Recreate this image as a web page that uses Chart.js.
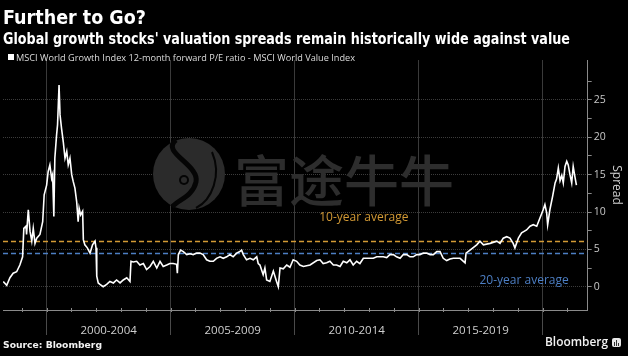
<!DOCTYPE html>
<html><head><meta charset="utf-8">
<script src="https://cdn.jsdelivr.net/npm/chart.js@4/dist/chart.umd.min.js"></script>
<style>
html,body{margin:0;padding:0;background:#000;}
#wrap{position:relative;width:628px;height:356px;overflow:hidden;background:#000;}
canvas{position:absolute;left:0;top:0;}
.t{position:absolute;white-space:nowrap;transform-origin:0 0;line-height:1;}
</style></head><body>
<div id="wrap">
<canvas id="c" width="628" height="356"></canvas>
<div class="t" id="title" style="left:3px;top:7.5px;font-family:'DejaVu Sans';font-weight:bold;font-size:19.5px;color:#fff">Further to Go?</div>
<div class="t" id="sub" style="left:3px;top:32.3px;font-family:'DejaVu Sans';font-weight:bold;font-size:15px;color:#fff">Global growth stocks' valuation spreads remain historically wide against value</div>
<div style="position:absolute;left:8px;top:54px;width:6px;height:6px;background:#fff"></div>
<div class="t" id="leg" style="left:15.5px;top:52.5px;font-family:'Open Sans';font-size:9px;color:#ddd">MSCI World Growth Index 12-month forward P/E ratio - MSCI World Value Index</div>
<div class="t" id="src" style="left:3px;top:339.7px;font-family:'DejaVu Sans';font-weight:bold;font-size:9.5px;color:#f2f2f2">Source: Bloomberg</div>
<div class="t" id="bbg" style="left:545px;top:336px;font-family:'Open Sans';font-weight:600;font-size:12px;color:#f2f2f2">Bloomberg</div>
<div style="position:absolute;left:612px;top:338px;width:9px;height:9px;border-radius:2px;background:#e8e8e8"><div style="position:absolute;left:2px;top:4px;width:1px;height:4px;background:#333"></div><div style="position:absolute;left:4px;top:2px;width:1px;height:6px;background:#333"></div><div style="position:absolute;left:6px;top:5px;width:1px;height:3px;background:#333"></div></div>
</div>
<script>
// ---- data (decimal years, spread in P/E points) ----
const dates = [
1998.25,1998.39,1998.52,1998.65,1998.79,1998.92,1999.03,1999.08,1999.17,1999.19,
1999.26,1999.33,1999.40,1999.46,1999.53,1999.60,1999.73,1999.84,1999.90,2000.00,
2000.06,2000.13,2000.20,2000.24,2000.29,2000.33,2000.40,2000.44,2000.50,2000.54,
2000.60,2000.67,2000.74,2000.81,2000.87,2000.94,2001.01,2001.07,2001.14,2001.21,
2001.27,2001.31,2001.37,2001.45,2001.48,2001.54,2001.64,2001.75,2001.85,2001.95,
2001.99,2002.02,2002.08,2002.15,2002.28,2002.42,2002.55,2002.69,2002.82,2002.96,
2003.09,2003.23,2003.36,2003.40,2003.49,2003.63,2003.76,2003.90,2004.03,2004.17,
2004.30,2004.44,2004.57,2004.70,2004.84,2004.97,2005.10,2005.24,2005.27,2005.31,
2005.40,2005.51,2005.65,2005.78,2005.91,2006.05,2006.18,2006.31,2006.45,2006.58,
2006.72,2006.85,2006.99,2007.12,2007.26,2007.39,2007.52,2007.66,2007.79,2007.86,
2007.93,2008.06,2008.20,2008.33,2008.47,2008.53,2008.60,2008.73,2008.80,2008.87,
2009.00,2009.14,2009.27,2009.34,2009.41,2009.54,2009.68,2009.81,2009.94,2010.08,
2010.21,2010.35,2010.62,2010.89,2011.02,2011.15,2011.29,2011.42,2011.56,2011.69,
2011.83,2011.96,2012.10,2012.23,2012.36,2012.50,2012.63,2012.77,2012.90,2013.04,
2013.17,2013.31,2013.44,2013.57,2013.71,2013.84,2013.98,2014.11,2014.25,2014.38,
2014.52,2014.65,2014.78,2014.92,2015.05,2015.19,2015.32,2015.46,2015.59,2015.73,
2015.86,2015.99,2016.13,2016.26,2016.40,2016.67,2016.87,2016.91,2017.07,2017.34,
2017.47,2017.61,2017.88,2018.15,2018.28,2018.41,2018.55,2018.68,2018.81,2018.88,
2019.02,2019.15,2019.35,2019.49,2019.62,2019.76,2019.89,2020.02,2020.09,2020.16,
2020.20,2020.29,2020.40,2020.50,2020.56,2020.63,2020.70,2020.77,2020.83,2020.90,
2020.97,2021.03,2021.10,2021.17,2021.23,2021.30,2021.36];
const spread = [
0.7,0.2,1.2,1.8,2.0,2.9,4.0,7.8,8.1,7.0,
10.3,7.4,6.1,7.8,5.8,6.5,7.0,8.7,12.3,13.6,
15.4,16.3,14.5,15.0,9.4,17.2,20.3,21.7,27.0,23.0,
21.2,19.4,17.2,18.1,16.3,17.2,15.0,14.1,13.2,11.4,
8.7,10.5,9.6,10.1,6.3,5.6,5.2,4.5,5.6,6.1,
5.2,1.4,0.5,0.3,0.0,0.3,0.7,0.5,0.9,0.5,
0.9,1.2,0.7,3.4,3.3,3.4,2.9,3.1,2.3,2.7,
3.4,2.5,3.4,2.7,2.9,3.1,3.1,3.0,1.8,4.3,
4.9,4.7,4.3,4.4,4.3,4.5,4.5,4.3,3.6,3.4,
3.4,3.8,4.0,3.8,4.0,4.3,4.0,4.5,4.7,4.9,
4.3,3.6,3.8,3.6,4.0,3.1,2.9,1.6,2.5,0.9,
0.7,2.1,0.7,0.0,2.5,2.4,2.9,2.6,3.6,3.4,
2.9,2.7,2.9,3.5,3.6,3.1,3.2,3.4,2.9,2.9,
2.7,3.4,3.2,3.6,2.9,3.4,3.1,3.8,3.8,3.8,
3.8,4.0,4.0,4.0,3.9,4.3,4.3,4.0,3.8,4.3,
4.3,4.0,4.0,4.3,4.3,4.5,4.5,4.3,4.3,4.7,
4.7,3.8,3.5,3.7,3.8,3.8,3.2,4.5,4.9,5.6,
6.1,5.6,5.8,6.1,5.8,6.5,6.7,6.5,5.8,5.2,
6.5,7.2,7.6,8.1,8.3,8.1,9.2,10.3,11.0,9.9,
8.3,10.3,12.1,13.9,14.4,15.9,14.2,14.9,13.9,16.1,
16.8,16.3,15.0,13.9,16.1,14.7,13.6];
const avg10 = 6.05;   // 10-year average
const avg20 = 4.45;   // 20-year average
const yTicks = [0, 5, 10, 15, 20, 25];
const yMinorTicks = [2.5, 7.5, 12.5, 17.5, 22.5, 27.5];
const periodBounds = [2000, 2005, 2010, 2015, 2020];
const periodCenters = [2002.5, 2007.5, 2012.5, 2017.5];
const periodLabels = ['2000-2004', '2005-2009', '2010-2014', '2015-2019'];
const yearTicks = [1999,2000,2001,2002,2003,2004,2005,2006,2007,2008,2009,2010,2011,2012,2013,2014,2015,2016,2017,2018,2019,2020,2021];

const xMin = 1998.24, xMax = 2021.815, yMin = -3.12, yMax = 30.35;
const ORANGE = '#d39a35', BLUE = '#4d7fc4';
const avgLabels = [
  {text: '10-year average', x: 2012.79, y: 9.26, color: ORANGE},
  {text: '20-year average', x: 2019.25, y: 0.84, color: BLUE}
];

const watermark = {
  id: 'watermark',
  beforeDatasetsDraw(chart) {
    const ctx = chart.ctx;
    ctx.save();
    ctx.fillStyle = '#2b2b2b';
    ctx.beginPath(); ctx.arc(189, 174, 36, 0, Math.PI * 2); ctx.fill();
    ctx.strokeStyle = '#050505'; ctx.lineWidth = 5;
    ctx.beginPath();
    ctx.moveTo(176, 140);
    ctx.bezierCurveTo(160, 152, 200, 165, 196, 182);
    ctx.bezierCurveTo(193, 196, 178, 200, 172, 207);
    ctx.stroke();
    ctx.lineWidth = 2;
    ctx.beginPath(); ctx.moveTo(212, 152); ctx.bezierCurveTo(222, 175, 212, 200, 196, 208); ctx.stroke();
    ctx.fillStyle = '#050505';
    ctx.beginPath(); ctx.arc(184, 180, 5, 0, Math.PI * 2); ctx.fill();
    ctx.fillStyle = '#2b2b2b';
    ctx.beginPath(); ctx.arc(184, 180, 3, 0, Math.PI * 2); ctx.fill();
    ctx.fillStyle = '#2d2d2d';
    ctx.font = '500 55px "Noto Sans CJK SC"';
    ctx.textBaseline = 'middle';
    ctx.textAlign = 'left';
    ctx.fillText('富途牛牛', 234, 180);
    ctx.restore();
  },
  afterDatasetsDraw(chart) {
    const ctx = chart.ctx, xs = chart.scales.x, ys = chart.scales.y;
    ctx.save();
    // minor year ticks on the x axis line
    ctx.strokeStyle = '#8a8a8a'; ctx.lineWidth = 1;
    const yb = chart.chartArea.bottom;
    yearTicks.forEach(v => {
      const px = Math.round(xs.getPixelForValue(v)) + 0.5;
      ctx.beginPath(); ctx.moveTo(px, yb - 2); ctx.lineTo(px, yb + 2); ctx.stroke();
    });
    ctx.font = '12px "Open Sans"';
    ctx.textAlign = 'center'; ctx.textBaseline = 'middle';
    avgLabels.forEach(l => {
      ctx.fillStyle = l.color;
      ctx.fillText(l.text, xs.getPixelForValue(l.x), ys.getPixelForValue(l.y));
    });
    ctx.restore();
  }
};

const isBound = ctx => ctx.tick && periodBounds.includes(ctx.tick.value);
const isMajorY = ctx => ctx.tick && yTicks.includes(ctx.tick.value);

new Chart(document.getElementById('c'), {
  type: 'line',
  data: {
    datasets: [
      {data: dates.map((d, i) => ({x: d, y: spread[i]})), borderColor: '#ffffff', borderWidth: 1.6, pointRadius: 0, tension: 0},
      {data: [{x: xMin, y: avg10}, {x: xMax, y: avg10}], borderColor: ORANGE, borderWidth: 1.5, borderDash: [5, 3], pointRadius: 0},
      {data: [{x: xMin, y: avg20}, {x: xMax, y: avg20}], borderColor: BLUE, borderWidth: 1.5, borderDash: [5, 3], pointRadius: 0}
    ]
  },
  options: {
    responsive: false, animation: false, devicePixelRatio: 1,
    layout: {padding: {left: 3, top: 60, right: 0, bottom: 0}},
    plugins: {legend: {display: false}, tooltip: {enabled: false}},
    scales: {
      x: {
        type: 'linear', position: 'bottom', min: xMin, max: xMax,
        afterBuildTicks: s => { s.ticks = periodBounds.concat(periodCenters).sort((a, b) => a - b).map(v => ({value: v})); },
        afterFit: s => { s.height = 46; },
        grid: {
          color: c => isBound(c) ? '#3a3a3a' : 'rgba(0,0,0,0)',
          tickColor: c => isBound(c) ? '#4a4a4a' : 'rgba(0,0,0,0)',
          tickLength: 25, lineWidth: 1
        },
        border: {color: '#8a8a8a', width: 1},
        ticks: {
          color: '#cfcfcf', font: {family: 'Open Sans', size: 11.5}, padding: -11,
          maxRotation: 0, autoSkip: false,
          callback: v => { const i = periodCenters.indexOf(v); return i >= 0 ? periodLabels[i] : ''; }
        }
      },
      y: {
        type: 'linear', position: 'right', min: yMin, max: yMax,
        afterBuildTicks: s => { s.ticks = yTicks.concat(yMinorTicks).sort((a, b) => a - b).map(v => ({value: v})); },
        afterFit: s => { s.width = 40.3; },
        grid: {
          color: c => isMajorY(c) ? '#3c3c3c' : 'rgba(0,0,0,0)',
          tickColor: '#8a8a8a', tickLength: 4, lineWidth: 1
        },
        border: {color: '#8a8a8a', width: 1, dash: [1, 1]},
        ticks: {
          color: '#c8c8c8', font: {family: 'Open Sans', size: 10.5}, padding: 2,
          callback: v => yTicks.includes(v) ? String(v) : ''
        },
        title: {display: true, text: 'Spread', color: '#cfcfcf', font: {family: 'Open Sans', size: 12}, padding: {top: 4, bottom: 4}}
      }
    }
  },
  plugins: [watermark]
});

function fitText(id, w) {
  const el = document.getElementById(id);
  const r = el.getBoundingClientRect().width;
  el.style.transform = 'scaleX(' + (w / r) + ')';
}
fitText('title', 143); fitText('sub', 567); fitText('leg', 339); fitText('src', 99); fitText('bbg', 63);
if (dates.length !== spread.length) console.error('length mismatch', dates.length, spread.length);
</script>
</body></html>
